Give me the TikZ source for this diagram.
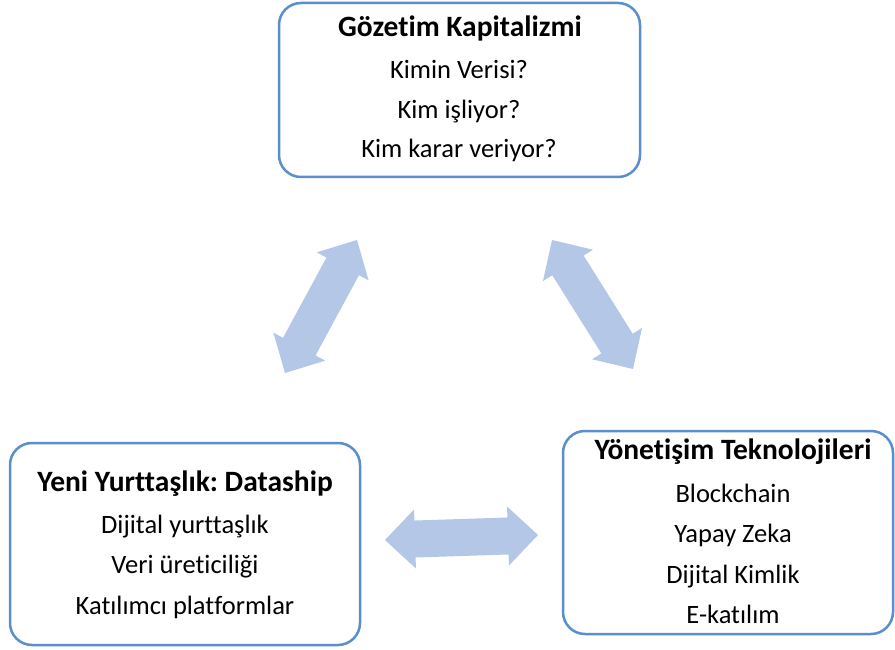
\documentclass[tikz,border=0pt]{standalone}
\usepackage{fontspec}
\setmainfont{Carlito}[Ligatures=NoCommon]
\usetikzlibrary{calc}
\frenchspacing
\definecolor{boxline}{RGB}{91,143,203}
\definecolor{arrowfill}{RGB}{180,199,231}
\tikzset{
  roundbox/.style={draw=boxline, line width=2.5pt, rounded corners=22pt, fill=white, inner sep=0pt},
  title/.style={anchor=base, inner sep=0pt, font=\fontsize{29.5}{34}\selectfont\bfseries\frenchspacing},
  item/.style={anchor=base, inner sep=0pt, font=\fontsize{26.5}{32}\selectfont\frenchspacing},
  fatarrow/.style={fill=arrowfill, draw=none}
}
% \fatdbl{P}{Q}: fat double arrow between named coordinates P and Q
\newcommand{\fatdbl}[2]{%
  \fill[fatarrow] (#1)
    -- ($($(#1)!30pt!(#2)$)!29.5pt!90:(#2)$)
    -- ($($(#1)!30pt!(#2)$)!18.5pt!90:(#2)$)
    -- ($($(#2)!30pt!(#1)$)!18.5pt!-90:(#1)$)
    -- ($($(#2)!30pt!(#1)$)!29.5pt!-90:(#1)$)
    -- (#2)
    -- ($($(#2)!30pt!(#1)$)!29.5pt!90:(#1)$)
    -- ($($(#2)!30pt!(#1)$)!18.5pt!90:(#1)$)
    -- ($($(#1)!30pt!(#2)$)!18.5pt!-90:(#2)$)
    -- ($($(#1)!30pt!(#2)$)!29.5pt!-90:(#2)$)
    -- cycle;}
\begin{document}
\begin{tikzpicture}[x=1pt,y=-1pt]
\useasboundingbox (0,0) rectangle (895,650);
% boxes
\node[roundbox, minimum width=361pt, minimum height=174pt] (top) at (459.5,90) {};
\node[roundbox, minimum width=350pt, minimum height=202pt] (left) at (185,544) {};
\node[roundbox, minimum width=330pt, minimum height=203pt] (right) at (728,532.5) {};
% top box text
\node[title] (t0) at (460,36.5) {Gözetim Kapitalizmi};
\node[item] (t1) at (459,79) {Kimin Verisi?};
\node[item] (t2) at (459,118.5) {Kim işliyor?};
\node[item] (t3) at (459,158) {Kim karar veriyor?};
% left box text
\node[title] (l0) at (185,491.5) {Yeni Yurttaşlık: Dataship};
\node[item] (l1) at (185,533) {Dijital yurttaşlık};
\node[item] (l2) at (185,573.5) {Veri üreticiliği};
\node[item] (l3) at (185,614.5) {Katılımcı platformlar};
% right box text
\node[title] (r0) at (733,459) {Yönetişim Teknolojileri};
\node[item] (r1) at (733,502) {Blockchain};
\node[item] (r2) at (733,542.5) {Yapay Zeka};
\node[item] (r3) at (733,583) {Dijital Kimlik};
\node[item] (r4) at (733,623) {E-katılım};
% arrows
\coordinate (a1s) at (285,373);
\coordinate (a1e) at (357,240);
\coordinate (a2s) at (552,240);
\coordinate (a2e) at (633,369);
\coordinate (a3s) at (385,540);
\coordinate (a3e) at (538,535);
\fatdbl{a1s}{a1e}
\fatdbl{a2s}{a2e}
\fatdbl{a3s}{a3e}
\end{tikzpicture}
\end{document}
